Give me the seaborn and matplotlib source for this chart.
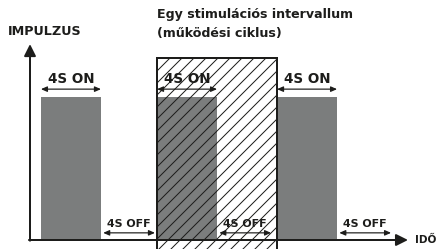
import matplotlib
matplotlib.use("Agg")
import matplotlib.pyplot as plt
from matplotlib.patches import Rectangle
import seaborn as sns

# pulse timeline (seconds) and amplitude
on_starts = [0.73, 8.47, 16.47]
on_duration = 4
off_duration = 3.45
amplitude = [1, 1, 1]
cycle_start = 8.47
cycle_length = 8
cycle_height = 1.27

on_label = "4S ON"
off_label = "4S OFF"
y_label = "IMPULZUS"
x_label = "IDŐ"
title_lines = ["Egy stimulációs intervallum", "(működési ciklus)"]

ink = "#1d1d1b"
grey = "#7b7d7d"

sns.set_style("white")
plt.rcParams["font.family"] = ["DejaVu Sans"]

fig = plt.figure(figsize=(442 / 72, 249 / 72), dpi=72)
ax = fig.add_axes([0, 0, 1, 1])

centers = [s + on_duration / 2 for s in on_starts]
spacing = min(b - a for a, b in zip(centers, centers[1:]))
sns.barplot(x=centers, y=amplitude, native_scale=True, width=on_duration / spacing,
            color=grey, saturation=1, linewidth=0, ax=ax)

# hatched stimulation interval
ax.add_patch(Rectangle((cycle_start, -1), cycle_length, cycle_height + 1,
                       fill=False, hatch="//", lw=2, edgecolor=ink, zorder=3))

# axes with arrows
head = dict(arrowstyle="-|>,head_length=0.7,head_width=0.35",
            lw=2, color=ink, mutation_scale=14, shrinkA=0, shrinkB=0)
ax.annotate("", xy=(0, 1.37), xytext=(0, -0.005), arrowprops=head)
ax.annotate("", xy=(25.2, 0), xytext=(-0.07, 0), arrowprops=head, zorder=4)

dbl = dict(arrowstyle="<|-|>,head_length=0.5,head_width=0.22", lw=1.2,
           color=ink, mutation_scale=10, shrinkA=0, shrinkB=0)
for s in on_starts:
    ax.annotate("", xy=(s, 1.055), xytext=(s + on_duration, 1.055),
                arrowprops=dbl, zorder=5)
    ax.text(s + on_duration / 2, 1.125, on_label, ha="center", va="center",
            fontsize=13.5, fontweight="bold", color=ink, zorder=5)
    off_s = s + on_duration + 0.15
    ax.annotate("", xy=(off_s, 0.05), xytext=(off_s + off_duration, 0.05),
                arrowprops=dbl, zorder=5)
    ax.text(off_s + off_duration / 2, 0.11, off_label, ha="center",
            va="center", fontsize=11, fontweight="bold", color=ink, zorder=5)

ax.text(-1.47, 1.46, y_label, ha="left", va="center", fontsize=12.8,
        fontweight="bold", color=ink)
ax.text(25.65, 0, x_label, ha="left", va="center", fontsize=10.5,
        fontweight="bold", color=ink)
ax.text(cycle_start, 1.575, title_lines[0], ha="left", va="center",
        fontsize=12.6, fontweight="bold", color=ink)
ax.text(cycle_start, 1.445, title_lines[1], ha="left", va="center",
        fontsize=12.6, fontweight="bold", color=ink)

ax.set_xlim(-2, 412 / 15)
ax.set_ylim(-9 / 143, 240 / 143)
ax.set_axis_off()

fig.savefig("out.png", dpi=72)
